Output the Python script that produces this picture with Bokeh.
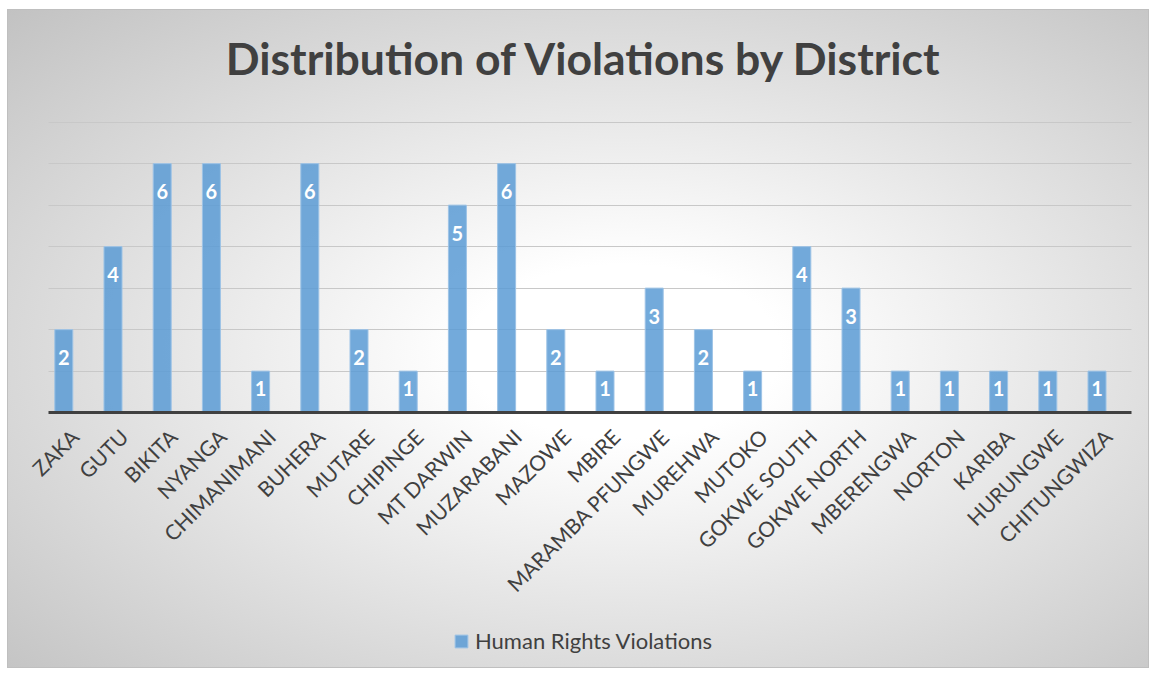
import math
from bokeh.plotting import figure
from bokeh.models import FixedTicker, Range1d, Legend, LegendItem, ColumnDataSource, Label
from bokeh.core.properties import value
from bokeh.embed import file_html
from bokeh.resources import INLINE

districts = ["ZAKA", "GUTU", "BIKITA", "NYANGA", "CHIMANIMANI", "BUHERA", "MUTARE",
             "CHIPINGE", "MT DARWIN", "MUZARABANI", "MAZOWE", "MBIRE", "MARAMBA PFUNGWE",
             "MUREHWA", "MUTOKO", "GOKWE SOUTH", "GOKWE NORTH", "MBERENGWA", "NORTON",
             "KARIBA", "HURUNGWE", "CHITUNGWIZA"]
violations = [2, 4, 6, 6, 1, 6, 2, 1, 5, 6, 2, 1, 3, 2, 1, 4, 3, 1, 1, 1, 1, 1]
y_ticks = [1, 2, 3, 4, 5, 6, 7]
title_text = "Distribution of Violations by District"
series_name = "Human Rights Violations"

FONT = "Lato"
xs = list(range(len(districts)))
offsets = [17 if v == 1 else 28 for v in violations]
src = ColumnDataSource(dict(x=xs, top=violations, lab=[str(v) for v in violations], off=offsets))

# the frame fills the whole chart box; value 0 sits at the baseline, 7 at the top gridline
x_lo, x_hi = -0.311, 21.70          # extent of plot area (gridlines / baseline)
p = figure(width=1142, height=659, output_backend="svg", toolbar_location=None,
           x_range=Range1d(-1.124, 22.087), y_range=Range1d(-6.19, 9.69),
           min_border_left=0, min_border_right=0, min_border_top=0, min_border_bottom=0)
p.background_fill_color = None
p.border_fill_color = None
p.outline_line_color = None
p.styles = {"background": "radial-gradient(ellipse at 54% 52%, #ffffff 0%, #ffffff 18%, #c2c2c2 100%)",
            "border": "1px solid #bfbfbf",
            "margin-left": "7px", "margin-top": "9px"}

p.ygrid.ticker = FixedTicker(ticks=y_ticks)
p.ygrid.cross_bounds = (x_lo, x_hi)
p.ygrid.grid_line_color = "#c8c8c8"
p.ygrid.grid_line_width = 1
p.xgrid.grid_line_color = None
p.yaxis.visible = False

# tick labels sit slightly right of the bar centre, as in the original
shift = 0.22
ax = p.xaxis[0]
ax.fixed_location = 0
ax.bounds = (x_lo, x_hi)
ax.ticker = FixedTicker(ticks=[i + shift for i in xs])
ax.major_label_overrides = {i + shift: d for i, d in zip(xs, districts)}
ax.major_label_orientation = math.pi / 4
ax.major_label_text_font = FONT
ax.major_label_text_font_size = "21px"
ax.major_label_text_color = "#404040"
ax.major_label_standoff = 14
ax.major_tick_line_color = None
ax.minor_tick_line_color = None
ax.axis_line_color = "#404040"
ax.axis_line_width = 3

r = p.vbar(x="x", top="top", width=0.366, source=src, fill_color="#5B9BD5", fill_alpha=0.85,
           line_color="#9DC3E6", line_width=1)
p.text(x="x", y="top", text="lab", y_offset="off", source=src, text_color="white",
       text_font=value(FONT), text_font_style="bold", text_font_size="20px",
       text_align="center", text_baseline="middle")

p.add_layout(Label(x=576, y=612, x_units="screen", y_units="screen", text=title_text,
                   text_font=FONT, text_font_size="44.5px", text_font_style="bold",
                   text_color="#404040", text_align="center", text_baseline="alphabetic"))

legend = Legend(items=[LegendItem(label=series_name, renderers=[r])],
                location=(445, 15), orientation="horizontal",
                glyph_width=16, glyph_height=16, label_standoff=6, padding=5, margin=0,
                label_text_font=FONT, label_text_font_size="22px", label_text_color="#404040",
                border_line_color=None, background_fill_alpha=0)
p.add_layout(legend, "center")

open("out.html", "w").write(file_html(p, INLINE))
